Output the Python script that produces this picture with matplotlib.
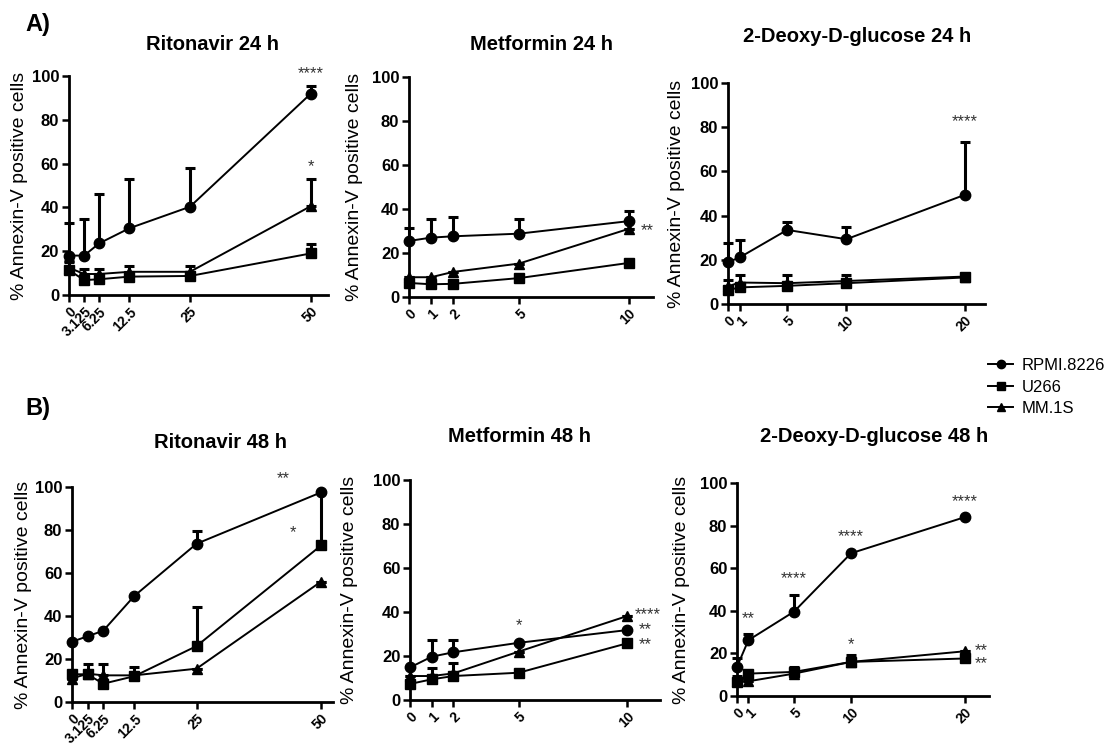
import numpy as np
import matplotlib
matplotlib.use("Agg")
import matplotlib.pyplot as plt
from matplotlib.lines import Line2D

plt.rcParams["font.family"] = ["Liberation Sans", "DejaVu Sans"]

# x doses
rito_x = [0, 3.125, 6.25, 12.5, 25, 50]
rito_lbl = ["0", "3.125", "6.25", "12.5", "25", "50"]
metf_x = [0, 1, 2, 5, 10]
metf_lbl = ["0", "1", "2", "5", "10"]
dg_x = [0, 1, 5, 10, 20]
dg_lbl = ["0", "1", "5", "10", "20"]

# Ritonavir 24 h (mean, upper error)
rito24_rpmi = [18, 18, 23.6, 30.5, 40.3, 92]
rito24_rpmi_err = [15, 16.5, 22.5, 22.3, 17.5, 3.4]
rito24_u266 = [11.4, 6.8, 7.2, 8.4, 8.7, 19]
rito24_u266_err = [3.5, 2.5, 2.5, 2, 2, 4.5]
rito24_mm1s = [12.5, 9.6, 9.6, 10.6, 10.6, 40.6]
rito24_mm1s_err = [3, 2.3, 2.3, 2.5, 2.5, 12.4]

# Metformin 24 h
metf24_rpmi = [25.5, 27, 27.6, 28.8, 34.5]
metf24_rpmi_err = [6, 8.3, 8.8, 6.8, 4.5]
metf24_u266 = [6.4, 5.8, 6, 8.6, 15.5]
metf24_u266_err = [0, 0, 0, 0, 0]
metf24_mm1s = [9, 9, 11.4, 15.2, 31]
metf24_mm1s_err = [0, 0, 0, 0, 0]

# 2-DG 24 h
dg24_rpmi = [18.9, 21.1, 33.5, 29.3, 49.4]
dg24_rpmi_err = [8.9, 7.9, 3.8, 5.4, 23.7]
dg24_u266 = [6.3, 7.5, 8.2, 9.4, 12]
dg24_u266_err = [0, 0, 0, 0, 0]
dg24_mm1s = [8, 9.7, 9.4, 10.4, 12.4]
dg24_mm1s_err = [3, 3.3, 3.6, 2.6, 0]

# Ritonavir 48 h
rito48_rpmi = [28, 30.6, 33.1, 49.3, 73.6, 97.5]
rito48_rpmi_err = [0, 0, 0, 0, 5.9, 0]
rito48_u266 = [12.9, 12.9, 8.5, 12, 26, 72.8]
rito48_u266_err = [0, 5, 0, 4.3, 18, 24.5]
rito48_mm1s = [10.9, 13.2, 12.4, 12.4, 15.5, 56]
rito48_mm1s_err = [0, 0, 5.5, 0, 0, 0]

# Metformin 48 h
metf48_rpmi = [14.8, 19.7, 21.7, 26, 31.8]
metf48_rpmi_err = [0, 7.6, 5.6, 0, 0]
metf48_u266 = [7.3, 9.4, 10.9, 12.4, 25.8]
metf48_u266_err = [0, 5, 6.1, 0, 0]
metf48_mm1s = [10.9, 10.9, 12.1, 22, 38.2]
metf48_mm1s_err = [0, 0, 0, 0, 0]

# 2-DG 48 h
dg48_rpmi = [13.7, 26.2, 39.6, 67, 84]
dg48_rpmi_err = [3.9, 2.8, 7.8, 0, 0]
dg48_u266 = [6.6, 10.5, 11.3, 16, 17.6]
dg48_u266_err = [3, 0, 2.4, 3.2, 0]
dg48_mm1s = [6.9, 6.9, 10.5, 16, 21]
dg48_mm1s_err = [0, 0, 0, 0, 0]

# significance marks: (x, y, text)
rito24_stars = [(50, 101, "****"), (50, 58.5, "*")]
metf24_stars = [(10.85, 30.3, "**")]
dg24_stars = [(20, 82.6, "****")]
rito48_stars = [(42.4, 104, "**"), (44.4, 78.8, "*")]
metf48_stars = [(5, 33.6, "*"), (10.95, 38.6, "****"), (10.8, 31.8, "**"), (10.8, 25.3, "**")]
dg48_stars = [(1, 36.4, "**"), (5, 55.3, "****"), (10, 74.6, "****"), (20, 91.4, "****"),
              (10, 24.2, "*"), (21.4, 21.5, "**"), (21.4, 15.2, "**")]

series_style = [("RPMI.8226", "o"), ("U266", "s"), ("MM.1S", "^")]

W, H = 1116, 745
fig = plt.figure(figsize=(W / 100, H / 100), dpi=100)


def panel(rect, title, tpos, x, lbl, xmax, data, stars, lab_x):
    ax = fig.add_axes(rect)
    for (name, mk), (y, e) in zip(series_style, data):
        ax.errorbar(x, y, yerr=[np.zeros(len(e)), e], color="black", marker=mk,
                    ms=7.5 if mk != "^" else 7, lw=1.4, elinewidth=2.2, capsize=3.5,
                    capthick=2.2, clip_on=False, zorder=3)
    ax.set_xlim(0, xmax)
    ax.set_ylim(0, 100)
    ax.set_yticks([0, 20, 40, 60, 80, 100])
    ax.set_xticks(x)
    ax.set_xticklabels(lbl, rotation=45, ha="right", rotation_mode="anchor",
                       fontsize=10, fontweight="bold")
    for t in ax.get_yticklabels():
        t.set_fontweight("bold"); t.set_fontsize(12)
    for s in ["top", "right"]:
        ax.spines[s].set_visible(False)
    for s in ["left", "bottom"]:
        ax.spines[s].set_linewidth(2)
    ax.tick_params(width=1.8, length=5, pad=2)
    ax.set_ylabel("% Annexin-V positive cells", fontsize=14)
    ax.yaxis.set_label_coords(lab_x, 0.5)
    fig.text(tpos[0] / W, 1 - tpos[1] / H, title, fontsize=14.5, fontweight="bold",
             ha="center", va="center")
    for sx, sy, st in stars:
        ax.text(sx, sy, st, ha="center", va="center", fontsize=12, color="#333333",
                clip_on=False)
    return ax


panel([0.0618, 0.604, 0.232, 0.294], "Ritonavir 24 h", (213, 44), rito_x, rito_lbl, 53.5,
      [(rito24_rpmi, rito24_rpmi_err), (rito24_u266, rito24_u266_err), (rito24_mm1s, rito24_mm1s_err)],
      rito24_stars, -0.158)
panel([0.3665, 0.6013, 0.2186, 0.2953], "Metformin 24 h", (541, 44), metf_x, metf_lbl, 11.1,
      [(metf24_rpmi, metf24_rpmi_err), (metf24_u266, metf24_u266_err), (metf24_mm1s, metf24_mm1s_err)],
      metf24_stars, -0.19)
panel([0.6523, 0.592, 0.2303, 0.2966], "2-Deoxy-D-glucose 24 h", (857, 36), dg_x, dg_lbl, 21.7,
      [(dg24_rpmi, dg24_rpmi_err), (dg24_u266, dg24_u266_err), (dg24_mm1s, dg24_mm1s_err)],
      dg24_stars, -0.167)
panel([0.0645, 0.0577, 0.2339, 0.2886], "Ritonavir 48 h", (221, 442), rito_x, rito_lbl, 52.4,
      [(rito48_rpmi, rito48_rpmi_err), (rito48_u266, rito48_u266_err), (rito48_mm1s, rito48_mm1s_err)],
      rito48_stars, -0.153)
panel([0.3674, 0.0604, 0.224, 0.2953], "Metformin 48 h", (519, 437), metf_x, metf_lbl, 11.5,
      [(metf48_rpmi, metf48_rpmi_err), (metf48_u266, metf48_u266_err), (metf48_mm1s, metf48_mm1s_err)],
      metf48_stars, -0.21)
panel([0.6604, 0.0658, 0.2258, 0.2859], "2-Deoxy-D-glucose 48 h", (874, 437), dg_x, dg_lbl, 22.1,
      [(dg48_rpmi, dg48_rpmi_err), (dg48_u266, dg48_u266_err), (dg48_mm1s, dg48_mm1s_err)],
      dg48_stars, -0.186)

fig.text(25 / W, 1 - 25 / H, "A)", fontsize=17, fontweight="bold", va="center")
fig.text(25 / W, 1 - 408 / H, "B)", fontsize=17, fontweight="bold", va="center")

handles = [Line2D([0], [0], color="black", marker=mk, ms=6, lw=1.4) for _, mk in series_style]
fig.legend(handles, [n for n, _ in series_style], loc="center left",
           bbox_to_anchor=(988 / W, 1 - 387 / H), frameon=False, fontsize=12,
           borderaxespad=0, borderpad=0, handlelength=1.5, handletextpad=0.5,
           labelspacing=0.4)

fig.savefig("out.png", dpi=100)
